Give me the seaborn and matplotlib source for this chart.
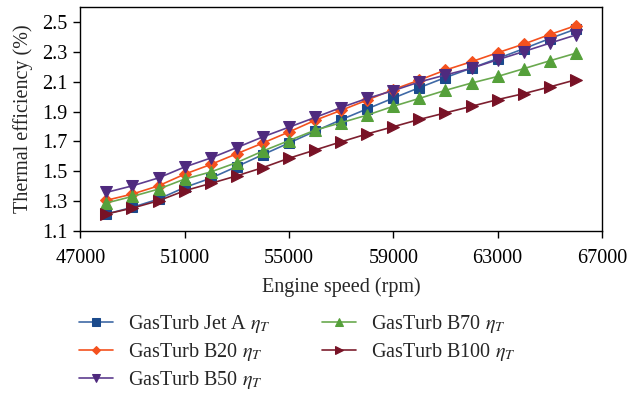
import matplotlib
matplotlib.use("Agg")
import matplotlib.pyplot as plt
import seaborn as sns
import pandas as pd

speed = [48000, 49000, 50000, 51000, 52000, 53000, 54000, 55000, 56000, 57000,
         58000, 59000, 60000, 61000, 62000, 63000, 64000, 65000, 66000]
jet_a = [1.213, 1.258, 1.313, 1.391, 1.453, 1.531, 1.611, 1.689, 1.768, 1.845,
         1.918, 1.990, 2.060, 2.128, 2.191, 2.255, 2.321, 2.389, 2.453]
b20 = [1.305, 1.347, 1.402, 1.480, 1.545, 1.617, 1.689, 1.763, 1.841, 1.908,
       1.977, 2.047, 2.111, 2.178, 2.234, 2.294, 2.352, 2.416, 2.476]
b50 = [1.358, 1.402, 1.455, 1.528, 1.588, 1.658, 1.730, 1.795, 1.860, 1.927,
       1.988, 2.040, 2.098, 2.145, 2.190, 2.247, 2.302, 2.358, 2.413]
b70 = [1.287, 1.331, 1.380, 1.447, 1.495, 1.558, 1.635, 1.705, 1.775, 1.825,
       1.876, 1.935, 1.988, 2.042, 2.091, 2.135, 2.187, 2.240, 2.291]
b100 = [1.213, 1.253, 1.302, 1.369, 1.418, 1.469, 1.524, 1.587, 1.642, 1.697,
        1.750, 1.798, 1.847, 1.891, 1.935, 1.980, 2.020, 2.065, 2.113]

labels = [r"GasTurb Jet A $\eta_T$", r"GasTurb B20 $\eta_T$", r"GasTurb B50 $\eta_T$",
          r"GasTurb B70 $\eta_T$", r"GasTurb B100 $\eta_T$"]
series = [jet_a, b20, b50, b70, b100]
marker_colors = ["#1b4a8c", "#f4511e", "#4f2a7e", "#55a03a", "#781226"]
line_colors = ["#3f69a6", "#f4511e", "#5e3d8f", "#6aa94f", "#7d1f2f"]
markers = ["s", "D", "v", "^", ">"]
msizes = [7.5, 5.8, 8, 8, 8]

rows = []
for lab, vals in zip(labels, series):
    for x, y in zip(speed, vals):
        rows.append({"speed": x, "eff": y, "series": lab})
df = pd.DataFrame(rows)

sns.set_style("ticks")
plt.rcParams["font.family"] = ["Liberation Serif", "DejaVu Serif"]
plt.rcParams["mathtext.fontset"] = "stix"

fs = 14.5
fig = plt.figure(figsize=(6.27, 3.94), dpi=100)
ax = fig.add_axes([0.128, 0.414, 0.832, 0.568])

for lab, lc, mc, mk, ms in zip(labels, line_colors, marker_colors, markers, msizes):
    sub = df[df["series"] == lab]
    sns.lineplot(data=sub, x="speed", y="eff", ax=ax, color=lc, marker=mk,
                 markersize=ms, markeredgecolor=mc, markerfacecolor=mc,
                 linewidth=1.2, label=lab, legend=False)

ax.set_xlim(47000, 67000)
ax.set_ylim(1.1, 2.6)
ax.set_xticks([47000, 51000, 55000, 59000, 63000, 67000])
ax.set_yticks([1.1, 1.3, 1.5, 1.7, 1.9, 2.1, 2.3, 2.5])
ax.set_yticklabels(["1.1", "1.3", "1.5", "1.7", "1.9", "2.1", "2.3", "2.5"])
ax.tick_params(labelsize=fs, direction="out", length=5, width=1, colors="black")
ax.tick_params(axis="x", pad=8)
ax.tick_params(axis="y", pad=4)
for s in ax.spines.values():
    s.set_color("black")
    s.set_linewidth(1.0)
ax.set_xlabel("Engine speed (rpm)", fontsize=fs, labelpad=7)
ax.set_ylabel("Thermal efficiency (%)", fontsize=fs, labelpad=7)

handles, labs = ax.get_legend_handles_labels()
fig.legend(handles, labs, ncol=2, loc="upper left", bbox_to_anchor=(0.126, 0.205),
           frameon=False, fontsize=fs, handlelength=1.7, columnspacing=2.5,
           labelspacing=0.3, handletextpad=0.75, markerscale=0.75,
           borderaxespad=0, borderpad=0)

fig.savefig("out.png", dpi=100)
